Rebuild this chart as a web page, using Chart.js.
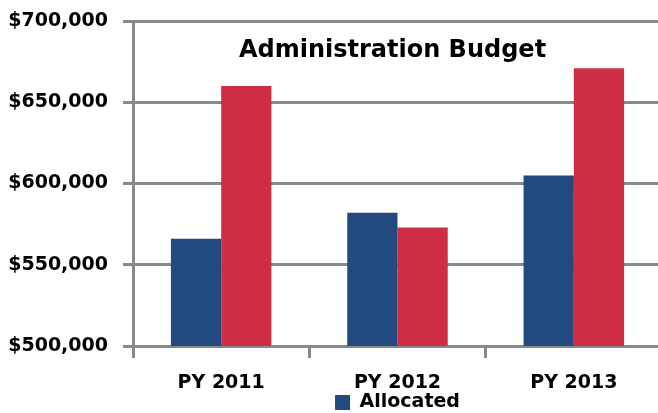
<!DOCTYPE html>
<html>
<head>
<meta charset="utf-8">
<script src="https://cdn.jsdelivr.net/npm/chart.js@4/dist/chart.umd.min.js"></script>
<style>
  html, body { margin: 0; padding: 0; background: #fff; width: 658px; height: 413px; overflow: hidden; }
  canvas { display: block; }
</style>
</head>
<body>
<canvas id="budget" width="662" height="422"></canvas>
<script>
// Budget figures per program year
const categories = ['PY 2011', 'PY 2012', 'PY 2013'];
const allocated  = [566000, 582000, 605000];
const expended   = [660000, 573000, 671000];
const yTicks     = [500000, 550000, 600000, 650000, 700000];
const chartTitle = 'Administration Budget';

const FONT = 'DejaVu Sans';
const GRID = '#898989';
const BLUE = '#214A7E';
const RED  = '#CD2E46';

Chart.defaults.font.family = FONT;
Chart.defaults.color = '#000';

const money = v => '$' + v.toLocaleString('en-US');

// Title drawn inside the plot area, above the bars
const innerTitle = {
  id: 'innerTitle',
  afterDatasetsDraw(chart) {
    const { ctx, chartArea } = chart;
    ctx.save();
    ctx.font = 'bold 24px "' + FONT + '"';
    ctx.fillStyle = '#000';
    ctx.textAlign = 'center';
    ctx.textBaseline = 'alphabetic';
    const cx = (chartArea.left + chartArea.right) / 2 - 5;
    ctx.fillText(chartTitle, cx, chartArea.top + 36);
    ctx.restore();
  }
};

new Chart(document.getElementById('budget'), {
  type: 'bar',
  data: {
    labels: categories,
    datasets: [
      { label: 'Allocated', data: allocated, backgroundColor: BLUE,
        categoryPercentage: 0.57, barPercentage: 1.0 },
      { label: 'Expended', data: expended, backgroundColor: RED,
        categoryPercentage: 0.57, barPercentage: 1.0 }
    ]
  },
  options: {
    responsive: false,
    animation: false,
    devicePixelRatio: 1,
    layout: { padding: { top: 21, right: 0, bottom: 0, left: 0 } },
    plugins: {
      title: { display: false },
      tooltip: { enabled: false },
      legend: {
        position: 'bottom',
        fullSize: false,
        labels: {
          boxWidth: 15,
          boxHeight: 15,
          padding: 0,
          color: '#000',
          font: { size: 19, weight: 'bold' },
          filter: item => item.datasetIndex === 0
        }
      }
    },
    scales: {
      x: {
        offset: true,
        grid: {
          offset: true,
          drawOnChartArea: false,
          drawTicks: true,
          tickLength: 12,
          color: GRID,
          lineWidth: 3
        },
        border: { display: true, color: GRID, width: 3 },
        ticks: { padding: 14, font: { size: 19, weight: 'bold' }, color: '#000' },
        afterFit: s => { s.height = 47; }
      },
      y: {
        min: 500000,
        max: 700000,
        afterBuildTicks: s => { s.ticks = yTicks.map(v => ({ value: v })); },
        grid: { color: GRID, lineWidth: 3, tickLength: 10, drawTicks: true },
        border: { display: true, color: GRID, width: 3 },
        ticks: {
          padding: 15,
          font: { size: 19, weight: 'bold', lineHeight: 0.3 },
          color: '#000',
          callback: v => money(v)
        },
        afterFit: s => { s.width = 133; }
      }
    }
  },
  plugins: [innerTitle]
});
</script>
</body>
</html>
